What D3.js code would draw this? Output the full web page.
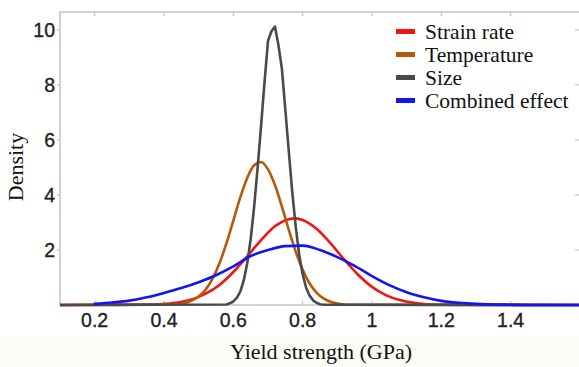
<!DOCTYPE html>
<html>
<head>
<meta charset="utf-8">
<script src="https://cdn.jsdelivr.net/npm/d3@7"></script>
<style>
  html, body { margin: 0; padding: 0; background: #ffffff; }
  svg { display: block; }
</style>
</head>
<body>
<svg id="chart" width="579" height="367"></svg>
<script>
// ---- Data ----
const seriesNames = ["Strain rate", "Temperature", "Size", "Combined effect"];
const seriesColors = ["#f01414", "#b45a0a", "#4a4a4a", "#1414f0"];

const strainX = [0.10, 0.36, 0.40, 0.44, 0.48, 0.52, 0.56, 0.60, 0.64, 0.68, 0.72, 0.76, 0.78, 0.80, 0.84, 0.88, 0.92, 0.96, 1.00, 1.04, 1.08, 1.12, 1.16, 1.20, 1.60];
const strainY = [0.00, 0.01, 0.04, 0.09, 0.20, 0.41, 0.73, 1.20, 1.77, 2.36, 2.86, 3.12, 3.15, 3.09, 2.77, 2.25, 1.65, 1.10, 0.66, 0.36, 0.18, 0.08, 0.03, 0.01, 0.00];

const tempX = [0.10, 0.44, 0.46, 0.48, 0.50, 0.52, 0.54, 0.56, 0.58, 0.60, 0.62, 0.64, 0.66, 0.68, 0.70, 0.72, 0.74, 0.76, 0.78, 0.80, 0.82, 0.84, 0.86, 0.88, 0.90, 0.92, 0.94, 1.60];
const tempY = [0.00, 0.03, 0.07, 0.16, 0.31, 0.56, 0.96, 1.52, 2.24, 3.07, 3.91, 4.62, 5.08, 5.20, 4.93, 4.36, 3.58, 2.73, 1.94, 1.28, 0.78, 0.45, 0.24, 0.12, 0.05, 0.02, 0.01, 0.00];

const sizeX = [0.10, 0.58, 0.59, 0.60, 0.61, 0.62, 0.63, 0.64, 0.65, 0.66, 0.67, 0.68, 0.69, 0.70, 0.71, 0.72, 0.73, 0.74, 0.75, 0.76, 0.77, 0.78, 0.79, 0.80, 0.81, 0.82, 0.83, 0.84, 0.85, 0.86, 1.60];
const sizeY = [0.00, 0.02, 0.06, 0.13, 0.26, 0.49, 0.89, 1.51, 2.39, 3.57, 4.98, 6.51, 8.10, 9.60, 9.95, 10.12, 9.45, 8.60, 7.10, 5.58, 4.10, 2.84, 1.83, 1.11, 0.63, 0.34, 0.17, 0.08, 0.03, 0.01, 0.00];

const combX = [0.20, 0.25, 0.30, 0.35, 0.40, 0.45, 0.50, 0.55, 0.60, 0.65, 0.70, 0.75, 0.80, 0.85, 0.90, 0.95, 1.00, 1.05, 1.10, 1.15, 1.20, 1.25, 1.30, 1.35, 1.40, 1.45, 1.60];
const combY = [0.04, 0.09, 0.16, 0.28, 0.44, 0.62, 0.83, 1.08, 1.40, 1.78, 2.00, 2.14, 2.16, 2.00, 1.74, 1.42, 1.05, 0.72, 0.46, 0.28, 0.15, 0.08, 0.04, 0.02, 0.01, 0.00, 0.00];

const xTicks = [0.2, 0.4, 0.6, 0.8, 1.0, 1.2, 1.4];
const xTickLabels = ["0.2", "0.4", "0.6", "0.8", "1", "1.2", "1.4"];
const yTicks = [2, 4, 6, 8, 10];
const yTickLabels = ["2", "4", "6", "8", "10"];

const xTitle = "Yield strength (GPa)";
const yTitle = "Density";

// ---- Layout ----
const svg = d3.select("#chart");
const W = 579, H = 367;
const mLeft = 60, mRight = 580, mTop = 12, mBottom = 305;

svg.append("rect").attr("x", 0).attr("y", 0).attr("width", W).attr("height", H).attr("fill", "#ffffff");
svg.append("rect").attr("x", 0).attr("y", 336).attr("width", W).attr("height", H - 336).attr("fill", "#fcfcf6");

const x = d3.scaleLinear().domain([0.1, 1.6]).range([mLeft, mRight]);
const y = d3.scaleLinear().domain([0, 10.65]).range([mBottom, mTop]);

// frame
const frameColor = "#c4c4c4";
svg.append("rect")
  .attr("x", mLeft).attr("y", mTop)
  .attr("width", mRight - mLeft).attr("height", mBottom - mTop)
  .attr("fill", "none").attr("stroke", frameColor).attr("stroke-width", 1.5);

// ticks
const tickG = svg.append("g");
xTicks.forEach(t => {
  tickG.append("line").attr("x1", x(t)).attr("x2", x(t)).attr("y1", mBottom).attr("y2", mBottom - 4)
    .attr("stroke", frameColor).attr("stroke-width", 1.2);
  tickG.append("line").attr("x1", x(t)).attr("x2", x(t)).attr("y1", mTop).attr("y2", mTop + 4)
    .attr("stroke", frameColor).attr("stroke-width", 1.2);
});
yTicks.forEach(t => {
  tickG.append("line").attr("x1", mLeft - 3).attr("x2", mLeft).attr("y1", y(t)).attr("y2", y(t))
    .attr("stroke", frameColor).attr("stroke-width", 1.2);
  tickG.append("line").attr("x1", mRight - 5).attr("x2", mRight).attr("y1", y(t)).attr("y2", y(t))
    .attr("stroke", frameColor).attr("stroke-width", 1.2);
});

// tick labels
const tickFont = "'Liberation Sans', Arial, sans-serif";
svg.append("g").selectAll("text").data(xTicks).join("text")
  .attr("x", d => x(d)).attr("y", 327)
  .attr("text-anchor", "middle")
  .attr("font-family", tickFont).attr("font-size", 19.5)
  .attr("fill", "#222").attr("stroke", "#222").attr("stroke-width", 0.35)
  .text((d, i) => xTickLabels[i]);

svg.append("g").selectAll("text").data(yTicks).join("text")
  .attr("x", 55).attr("y", d => y(d) + 7.5)
  .attr("text-anchor", "end")
  .attr("font-family", tickFont).attr("font-size", 19.5)
  .attr("fill", "#222").attr("stroke", "#222").attr("stroke-width", 0.35)
  .text((d, i) => yTickLabels[i]);

// axis titles
const serif = "'Liberation Serif', 'Times New Roman', serif";
svg.append("text")
  .attr("x", 321).attr("y", 359)
  .attr("text-anchor", "middle")
  .attr("font-family", serif).attr("font-size", 22)
  .attr("fill", "#111")
  .text(xTitle);

svg.append("text")
  .attr("transform", "translate(23,167) rotate(-90)")
  .attr("text-anchor", "middle")
  .attr("font-family", serif).attr("font-size", 22)
  .attr("fill", "#111")
  .text(yTitle);

// curves
const lineSmooth = d3.line().x(d => x(d[0])).y(d => y(d[1])).curve(d3.curveMonotoneX);
const lineLin = d3.line().x(d => x(d[0])).y(d => y(d[1]));

svg.append("clipPath").attr("id", "plotclip")
  .append("rect").attr("x", mLeft).attr("y", mTop - 5).attr("width", mRight - mLeft).attr("height", mBottom - mTop + 8);

const curvesG = svg.append("g").attr("clip-path", "url(#plotclip)");
const series = [
  { xs: strainX, ys: strainY, gen: lineSmooth },
  { xs: tempX, ys: tempY, gen: lineSmooth },
  { xs: sizeX, ys: sizeY, gen: lineLin },
  { xs: combX, ys: combY, gen: lineSmooth }
];
series.forEach((s, i) => {
  const pts = s.xs.map((v, j) => [v, s.ys[j]]);
  curvesG.append("path")
    .attr("d", s.gen(pts))
    .attr("fill", "none")
    .attr("stroke", seriesColors[i])
    .attr("stroke-width", 2.6)
    .attr("stroke-linejoin", "round")
    .attr("stroke-linecap", "round");
});

// legend
const legendY = [31.5, 54.5, 77.5, 100.5];
const legG = svg.append("g");
seriesNames.forEach((n, i) => {
  legG.append("rect")
    .attr("x", 396).attr("y", legendY[i] - 2.5)
    .attr("width", 19).attr("height", 5)
    .attr("fill", seriesColors[i]);
  legG.append("text")
    .attr("x", 425).attr("y", legendY[i] + 7)
    .attr("font-family", serif).attr("font-size", 21.5)
    .attr("fill", "#111")
    .text(n);
});
</script>
</body>
</html>
